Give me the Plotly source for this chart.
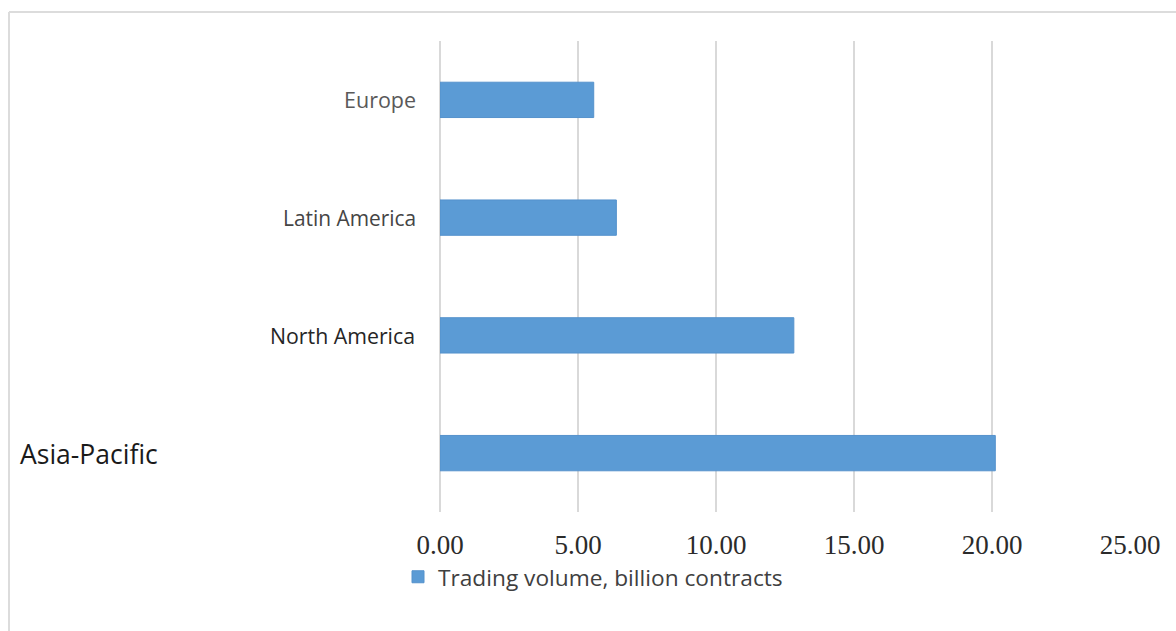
import plotly.graph_objects as go

categories = ["Asia-Pacific", "North America", "Latin America", "Europe"]
values = [20.12, 12.82, 6.39, 5.57]
series_name = "Trading volume, billion contracts"
tick_vals = [0, 5, 10, 15, 20, 25]
tick_text = ["0.00", "5.00", "10.00", "15.00", "20.00", "25.00"]

# per-label styling (label appearance in the reference varies)
label_styles = {
    "Europe": dict(size=21.5, color="#595959", x=-0.032, xanchor="right"),
    "Latin America": dict(size=20.9, color="#454545", x=-0.032, xanchor="right"),
    "North America": dict(size=21.3, color="#262626", x=-0.034, xanchor="right"),
    "Asia-Pacific": dict(size=26.5, color="#1a1a1a", x=-0.611, xanchor="left"),
}
label_yshift = {"Europe": 0, "Latin America": 0, "North America": 0, "Asia-Pacific": -1}

W, H = 1176, 631
ML, MR, MT, MB = 440, 46, 41, 119
pw = W - ML - MR
ph = H - MT - MB

fig = go.Figure()
fig.add_trace(go.Bar(
    y=categories, x=values, orientation="h", name=series_name,
    marker=dict(color="#5B9BD5", line=dict(color="#5592cc", width=1)),
    width=0.3, showlegend=True,
))

for c in categories:
    s = label_styles[c]
    fig.add_annotation(
        x=s["x"], xref="paper", y=c, yref="y", text=c, showarrow=False,
        xanchor=s["xanchor"], yanchor="middle", yshift=label_yshift[c],
        font=dict(family="Open Sans", size=s["size"], color=s["color"]),
    )

# outer light border (top and left edges visible)
bx = (9 - ML) / pw
by = (ph + MT - 12) / ph
fig.add_shape(type="line", xref="paper", yref="paper", x0=bx, x1=2, y0=by, y1=by,
              line=dict(color="#dcdcdc", width=2))
fig.add_shape(type="line", xref="paper", yref="paper", x0=bx, x1=bx, y0=by, y1=-1,
              line=dict(color="#dcdcdc", width=2))

fig.update_layout(
    width=W, height=H,
    margin=dict(l=ML, r=MR, t=MT, b=MB, pad=0),
    paper_bgcolor="white", plot_bgcolor="white",
    bargap=0.7,
    xaxis=dict(
        range=[0, 25], tickvals=tick_vals, ticktext=tick_text,
        showgrid=True, gridcolor="#d9d9d9", gridwidth=1.5,
        zeroline=True, zerolinecolor="#d9d9d9", zerolinewidth=1.5,
        showline=False, ticks="", ticklabelstandoff=14,
        tickfont=dict(family="Liberation Serif", size=27, color="#2b2b2b"),
    ),
    yaxis=dict(showticklabels=False, showgrid=False, zeroline=False, showline=False,
               range=[-0.5, 3.5]),
    legend=dict(
        orientation="h", x=(398 - ML) / pw, xanchor="left",
        y=(MT + ph - 577) / ph, yanchor="middle",
        font=dict(family="Open Sans", size=22.7, color="#404040"),
        bgcolor="rgba(0,0,0,0)",
    ),
    showlegend=True,
)

fig.write_html("out.html")
